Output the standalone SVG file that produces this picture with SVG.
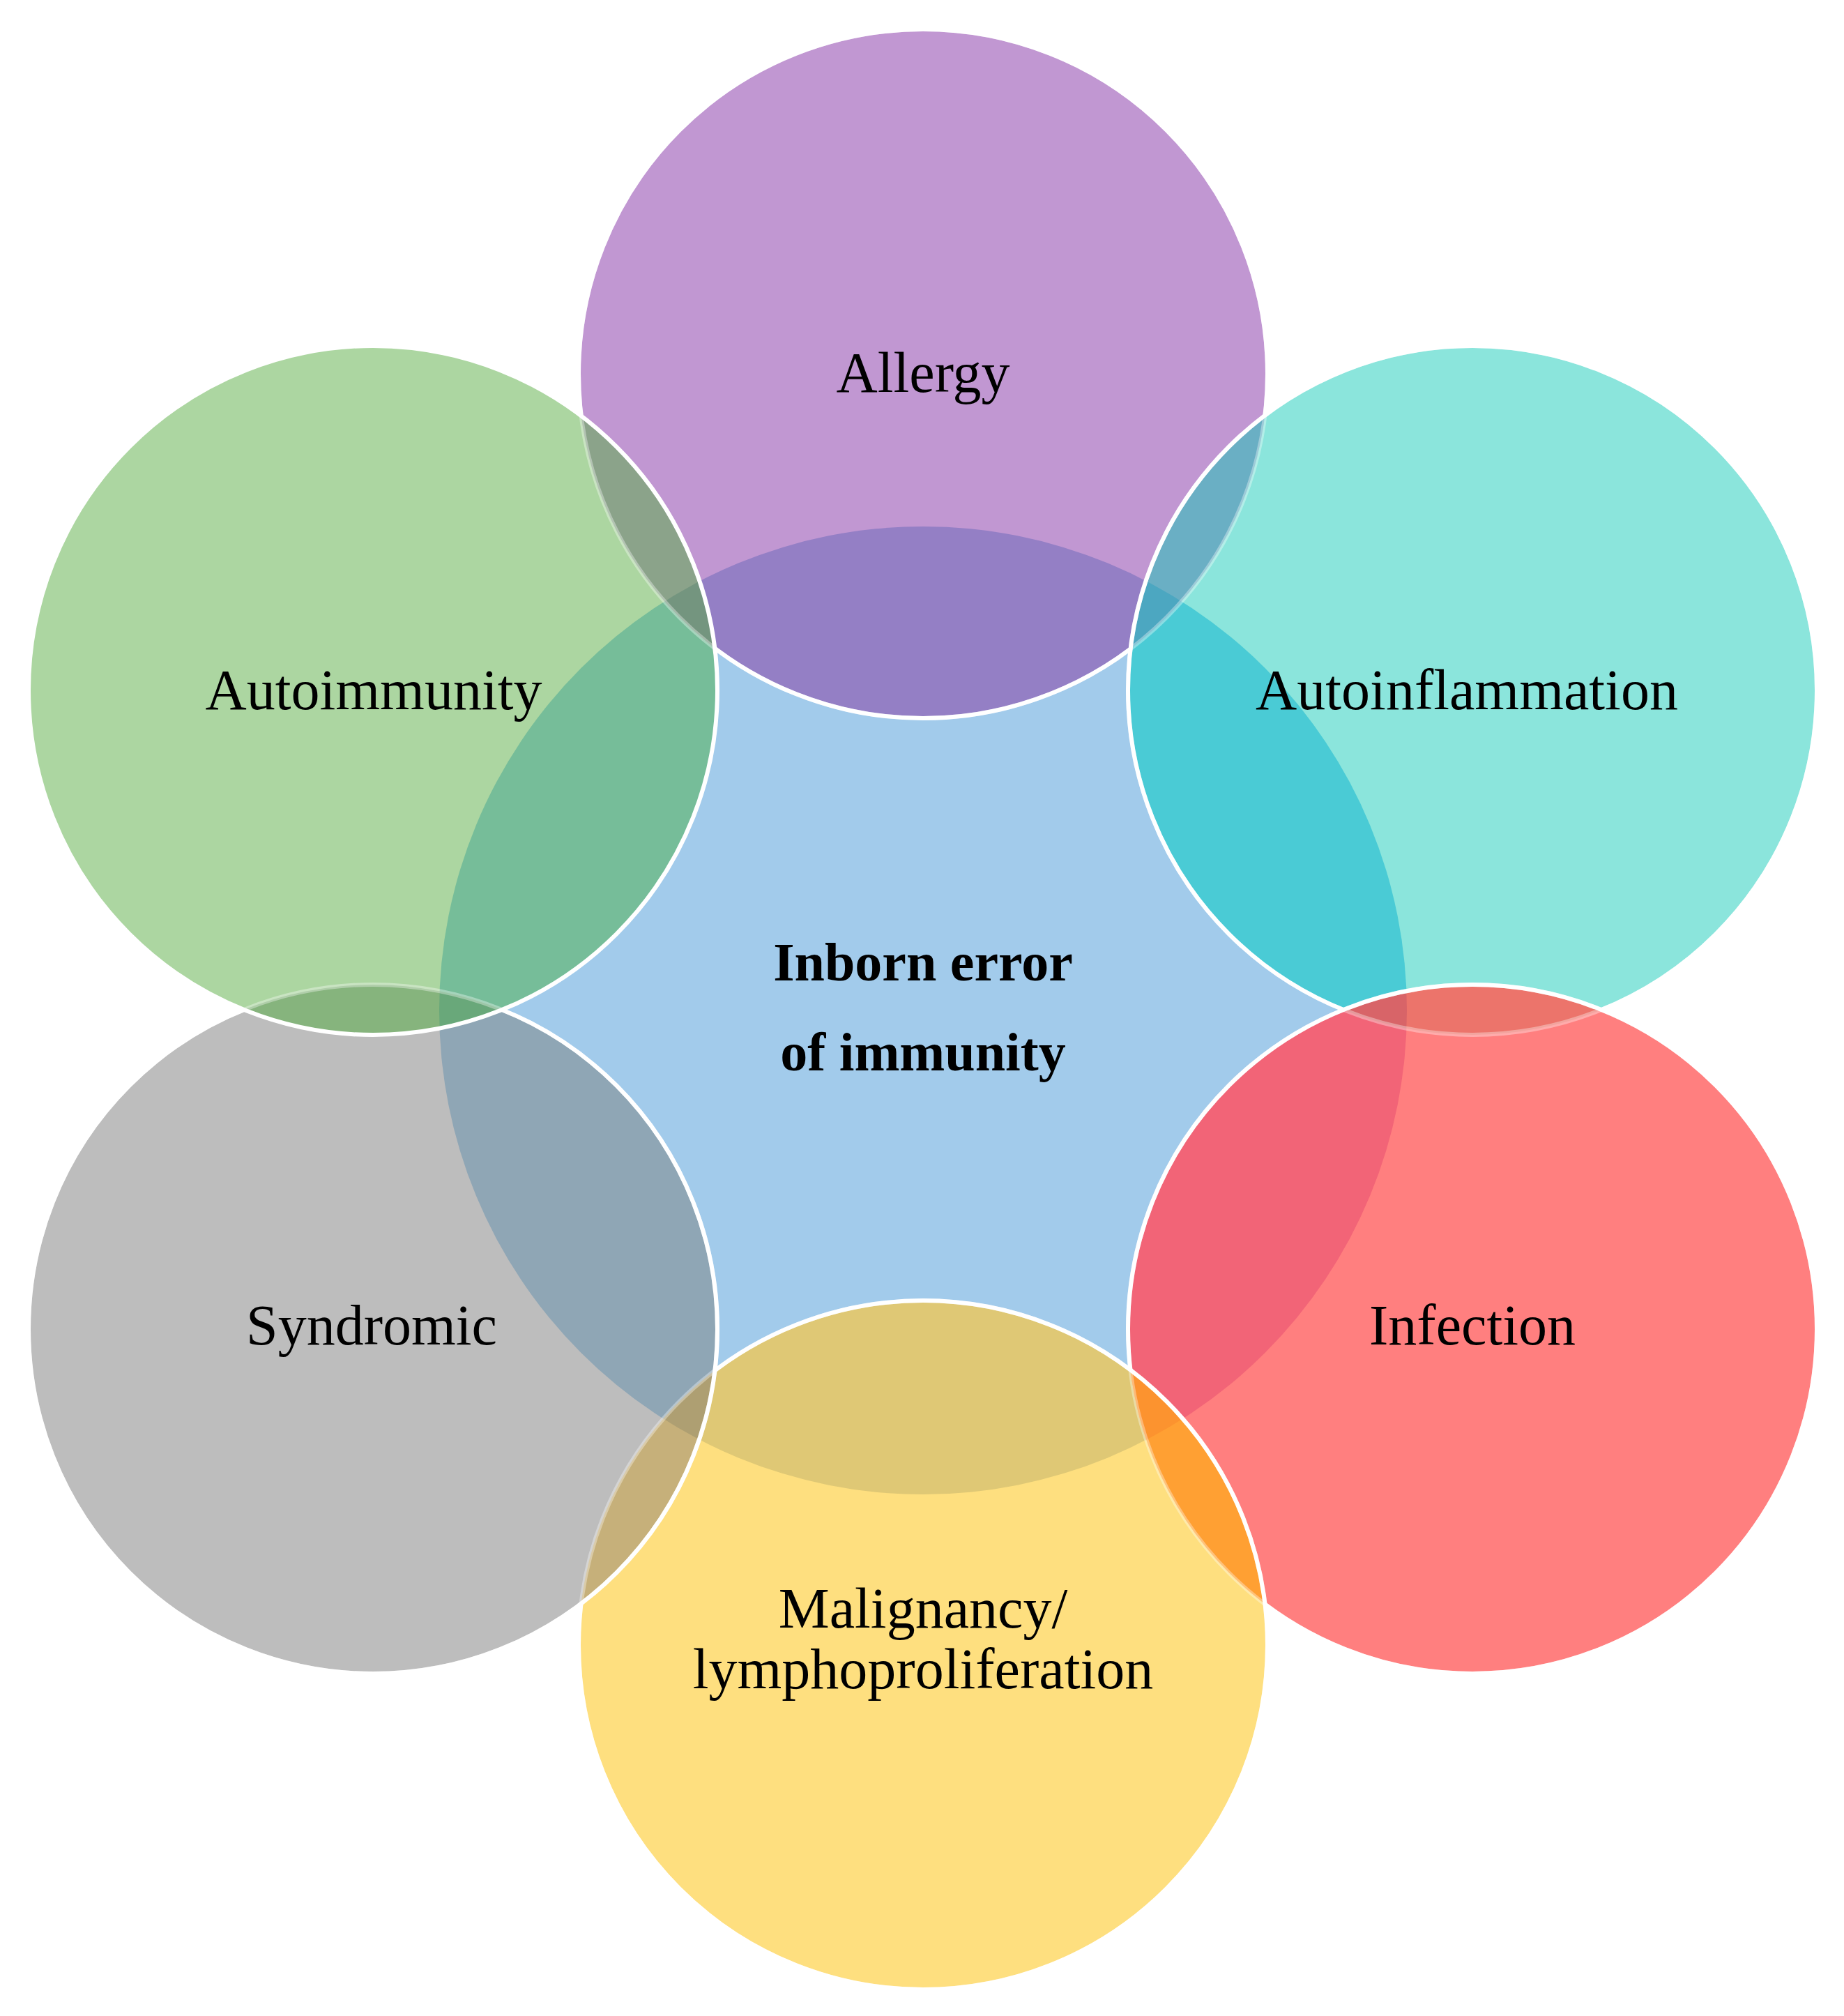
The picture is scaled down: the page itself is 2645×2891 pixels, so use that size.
<svg xmlns="http://www.w3.org/2000/svg" width="2645" height="2891" viewBox="0 0 2645 2891">
<style>
.lbl{font-family:"Liberation Serif","Times New Roman",serif;font-size:82px;fill:#000;text-anchor:middle}
.bold{font-weight:bold;font-size:78px}
.stk{fill:none;stroke:#fff;stroke-width:6}
.faint{fill:none;stroke:#fff;stroke-width:6;stroke-opacity:0.35}
</style>
<defs>
<circle id="cC" cx="1324" cy="1449" r="694"/>
<circle id="cA" cx="1324" cy="536" r="494"/>
<circle id="cF" cx="2112" cy="990" r="494"/>
<circle id="cI" cx="2112" cy="1906" r="494"/>
<circle id="cY" cx="1324" cy="2359" r="494"/>
<circle id="cS" cx="535" cy="1906" r="494"/>
<circle id="cG" cx="535" cy="990" r="494"/>
<clipPath id="kC"><use href="#cC"/></clipPath>
<clipPath id="kA"><use href="#cA"/></clipPath>
<clipPath id="kF"><use href="#cF"/></clipPath>
<clipPath id="kI"><use href="#cI"/></clipPath>
<clipPath id="kY"><use href="#cY"/></clipPath>
<clipPath id="kS"><use href="#cS"/></clipPath>
<clipPath id="kG"><use href="#cG"/></clipPath>
<mask id="mA" maskUnits="userSpaceOnUse" x="0" y="0" width="2645" height="2891"><rect width="2645" height="2891" fill="#fff"/><use href="#cF" fill="#000"/><use href="#cG" fill="#000"/></mask>
<mask id="mF" maskUnits="userSpaceOnUse" x="0" y="0" width="2645" height="2891"><rect width="2645" height="2891" fill="#fff"/><use href="#cI" fill="#000"/></mask>
<mask id="mI" maskUnits="userSpaceOnUse" x="0" y="0" width="2645" height="2891"><rect width="2645" height="2891" fill="#fff"/><use href="#cY" fill="#000"/></mask>
<mask id="mY" maskUnits="userSpaceOnUse" x="0" y="0" width="2645" height="2891"><rect width="2645" height="2891" fill="#fff"/><use href="#cS" fill="#000"/></mask>
<mask id="mS" maskUnits="userSpaceOnUse" x="0" y="0" width="2645" height="2891"><rect width="2645" height="2891" fill="#fff"/><use href="#cG" fill="#000"/></mask>
</defs>
<rect width="2645" height="2891" fill="#fff"/>

<g id="base-fills">
<use href="#cC" fill="#a2cbeb"/>
<use href="#cA" fill="#c197d2"/>
<use href="#cF" fill="#8be5dc"/>
<use href="#cI" fill="#ff7f7f"/>
<use href="#cY" fill="#fedf7f"/>
<use href="#cS" fill="#bdbdbd"/>
<use href="#cG" fill="#acd6a1"/>
</g>

<g id="overlaps">
<use href="#cA" fill="#947fc5" clip-path="url(#kC)"/>
<use href="#cF" fill="#4acbd5" clip-path="url(#kC)"/>
<use href="#cI" fill="#f26477" clip-path="url(#kC)"/>
<use href="#cY" fill="#dfc875" clip-path="url(#kC)"/>
<use href="#cS" fill="#8fa6b5" clip-path="url(#kC)"/>
<use href="#cG" fill="#76bd99" clip-path="url(#kC)"/>
<use href="#cA" fill="#8ba38a" clip-path="url(#kG)"/>
<use href="#cA" fill="#6aafc4" clip-path="url(#kF)"/>
<use href="#cF" fill="#ec746b" clip-path="url(#kI)"/>
<use href="#cI" fill="#ffa033" clip-path="url(#kY)"/>
<use href="#cY" fill="#c6b07a" clip-path="url(#kS)"/>
<use href="#cS" fill="#86b47d" clip-path="url(#kG)"/>
<g clip-path="url(#kC)">
<use href="#cA" fill="#74957f" clip-path="url(#kG)"/>
<use href="#cA" fill="#4ca7c1" clip-path="url(#kF)"/>
<use href="#cF" fill="#d86468" clip-path="url(#kI)"/>
<use href="#cI" fill="#fc932f" clip-path="url(#kY)"/>
<use href="#cY" fill="#ae9f72" clip-path="url(#kS)"/>
<use href="#cS" fill="#69a87a" clip-path="url(#kG)"/>
</g>
</g>

<g id="outlines">
<use href="#cA" class="faint"/>
<use href="#cF" class="faint"/>
<use href="#cI" class="faint"/>
<use href="#cY" class="faint"/>
<use href="#cS" class="faint"/>
<use href="#cA" class="stk" mask="url(#mA)"/>
<use href="#cF" class="stk" mask="url(#mF)"/>
<use href="#cI" class="stk" mask="url(#mI)"/>
<use href="#cY" class="stk" mask="url(#mY)"/>
<use href="#cS" class="stk" mask="url(#mS)"/>
<use href="#cG" class="stk"/>
</g>

<g id="node-center"><text class="lbl bold" x="1324" y="1406">Inborn error</text><text class="lbl bold" x="1324" y="1535">of immunity</text></g>
<g id="node-allergy"><text class="lbl" x="1324" y="562">Allergy</text></g>
<g id="node-autoinflammation"><text class="lbl" x="2104" y="1017">Autoinflammation</text></g>
<g id="node-infection"><text class="lbl" x="2112" y="1928">Infection</text></g>
<g id="node-malignancy"><text class="lbl" x="1324" y="2334">Malignancy/</text><text class="lbl" x="1324" y="2421">lymphoproliferation</text></g>
<g id="node-syndromic"><text class="lbl" x="533" y="1928">Syndromic</text></g>
<g id="node-autoimmunity"><text class="lbl" x="536" y="1017">Autoimmunity</text></g>
</svg>
